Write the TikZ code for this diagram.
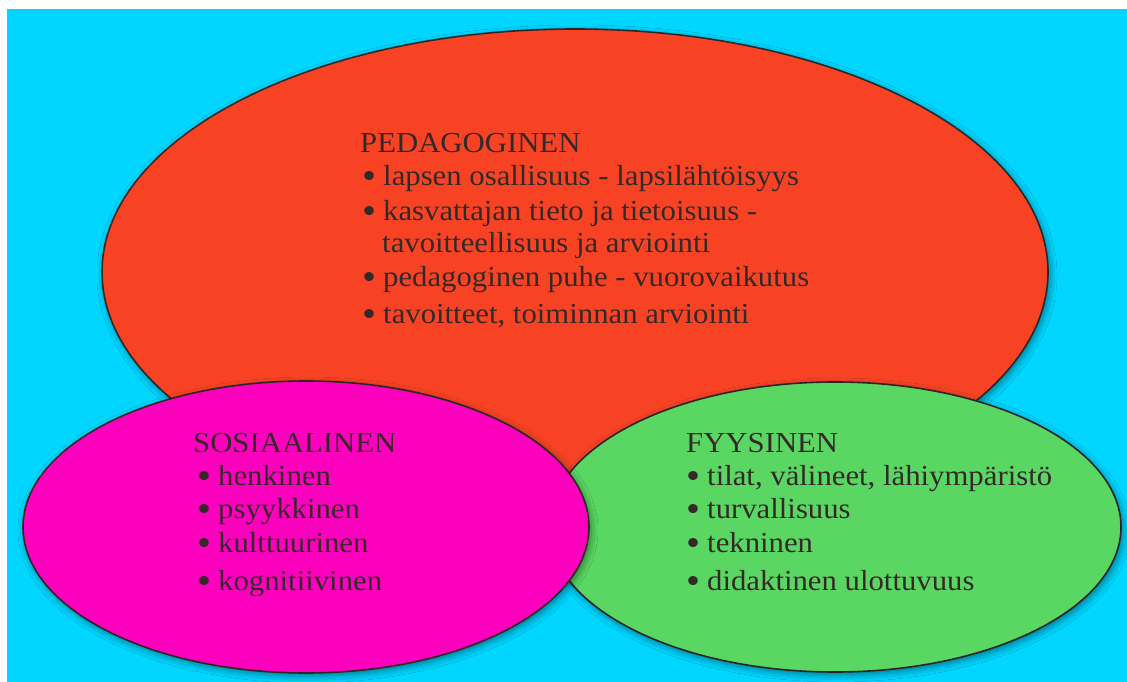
\documentclass[tikz,border=0pt]{standalone}
\usepackage{fontspec}
\setmainfont[FakeStretch=1.06]{Liberation Serif}
\usetikzlibrary{shapes.geometric,shadows.blur}
\definecolor{bgcyan}{RGB}{0,214,255}
\definecolor{pedred}{RGB}{247,67,36}
\definecolor{sospink}{RGB}{252,0,190}
\definecolor{fyygreen}{RGB}{90,215,98}
\definecolor{outl}{RGB}{45,38,38}
\definecolor{txtc}{RGB}{52,40,40}
\tikzset{
  blob/.style={ellipse, draw=outl, line width=1.6pt, inner sep=0pt,
    blur shadow={shadow xshift=2pt, shadow yshift=-3pt, shadow blur radius=7pt, shadow opacity=45}},
  txt/.style={anchor=base west, inner sep=0pt, text=txtc, font=\fontsize{29}{33}\selectfont},
}
\newcommand{\bul}{\makebox[21pt][l]{\smash{\raisebox{-3.5pt}{\scalebox{1.3}{•}}}}}
\begin{document}
\begin{tikzpicture}[x=1pt,y=-1pt]
\useasboundingbox (0,0) rectangle (1127,682);
\fill[white] (0,0) rectangle (1127,682);
\fill[bgcyan] (7,9) rectangle (1127,682);
\node[blob, fill=pedred, minimum width=946pt, minimum height=486pt] (ped) at (575,272) {};
\node[blob, fill=fyygreen, minimum width=572pt, minimum height=290pt] (fyy) at (835,527) {};
\node[blob, fill=sospink, minimum width=566pt, minimum height=292pt] (sos) at (306,527) {};
% Pedagoginen
\node[txt] (p0) at (360,153) {PEDAGOGINEN};
\node[txt] (p1) at (362,185) {\bul lapsen osallisuus - lapsilähtöisyys};
\node[txt] (p2) at (362,220) {\bul kasvattajan tieto ja tietoisuus -};
\node[txt] (p3) at (382,252) {tavoitteellisuus ja arviointi};
\node[txt] (p4) at (362,286) {\bul pedagoginen puhe - vuorovaikutus};
\node[txt] (p5) at (362,323) {\bul tavoitteet, toiminnan arviointi};
% Sosiaalinen
\node[txt] (s0) at (193,452) {SOSIAALINEN};
\node[txt] (s1) at (197,485) {\bul henkinen};
\node[txt] (s2) at (197,518) {\bul psyykkinen};
\node[txt] (s3) at (197,552) {\bul kulttuurinen};
\node[txt] (s4) at (197,590) {\bul kognitiivinen};
% Fyysinen
\node[txt] (f0) at (686,452) {FYYSINEN};
\node[txt] (f1) at (686,485) {\bul tilat, välineet, lähiympäristö};
\node[txt] (f2) at (686,518) {\bul turvallisuus};
\node[txt] (f3) at (686,552) {\bul tekninen};
\node[txt] (f4) at (686,590) {\bul didaktinen ulottuvuus};
\end{tikzpicture}
\end{document}
